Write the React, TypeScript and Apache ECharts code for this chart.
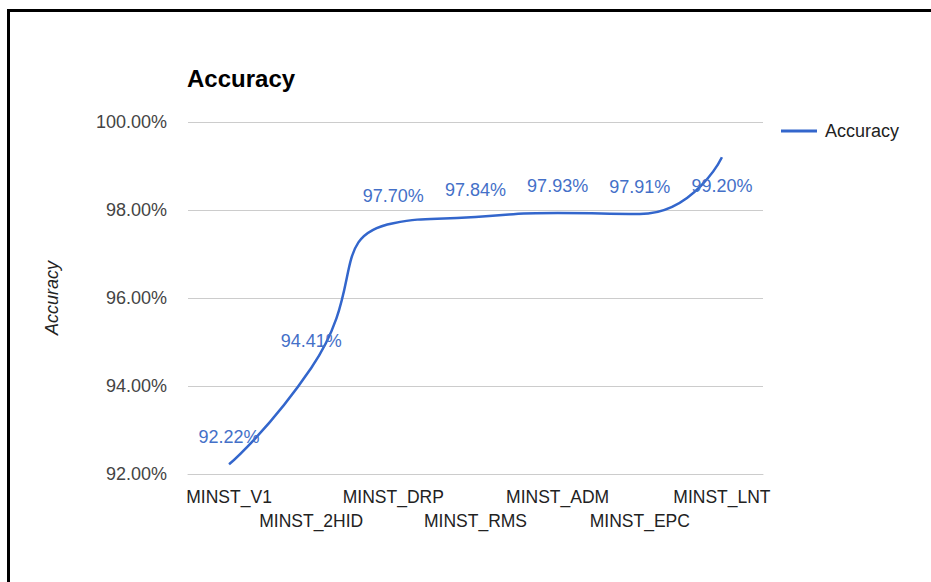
import React, { useEffect, useRef } from "react";
import * as echarts from "echarts";

const categories = ["MINST_V1", "MINST_2HID", "MINST_DRP", "MINST_RMS", "MINST_ADM", "MINST_EPC", "MINST_LNT"];
const accuracy = [92.22, 94.41, 97.7, 97.84, 97.93, 97.91, 99.2];
const yTicks = { min: 92, max: 100, interval: 2 };

export default function App() {
  const ref = useRef<HTMLDivElement>(null);
  useEffect(() => {
    document.body.style.margin = "0";
    const chart = echarts.init(ref.current!, null, { renderer: "svg" });
    const last = accuracy.length - 1;
    chart.setOption({
      animation: false,
      backgroundColor: "#fff",
      title: {
        text: "Accuracy",
        left: 182,
        top: 61,
        textStyle: { fontFamily: "Liberation Sans", fontSize: 24, fontWeight: "bold", color: "#000" },
      },
      legend: {
        left: 776,
        top: 117,
        icon: "rect",
        itemWidth: 36,
        itemHeight: 3,
        data: ["Accuracy"],
        itemStyle: { color: "#3366cc" },
        textStyle: { fontFamily: "Liberation Sans", fontSize: 18, color: "#222", padding: [0, 0, 0, 3] },
      },
      grid: { left: 188, right: 168, top: 122, bottom: 108 },
      graphic: [
        {
          type: "text",
          x: 52,
          y: 298,
          rotation: Math.PI / 2,
          style: {
            text: "Accuracy",
            fontFamily: "Liberation Sans",
            fontSize: 18,
            fontStyle: "italic",
            fill: "#222",
            align: "center",
            verticalAlign: "middle",
          },
        },
      ],
      xAxis: {
        type: "category",
        data: categories,
        boundaryGap: true,
        axisLine: { show: true, lineStyle: { color: "#ccc" } },
        axisTick: { show: false },
        axisLabel: {
          interval: 0,
          margin: 11,
          fontFamily: "Liberation Sans",
          fontSize: 17.5,
          color: "#222",
          lineHeight: 24,
          formatter: (v: string, i: number) => (i % 2 ? "\n" + v : v),
        },
      },
      yAxis: {
        type: "value",
        min: yTicks.min,
        max: yTicks.max,
        interval: yTicks.interval,
        axisLine: { show: false },
        axisTick: { show: false },
        splitLine: { lineStyle: { color: "#cccccc", width: 1 } },
        axisLabel: {
          margin: 21,
          fontFamily: "Liberation Sans",
          fontSize: 18,
          color: "#444",
          formatter: (v: number) => v.toFixed(2) + "%",
        },
      },
      series: [
        {
          name: "Accuracy",
          type: "line",
          smooth: 0.6,
          symbol: "circle",
          symbolSize: 0.5,
          showSymbol: true,
          lineStyle: { color: "#3366cc", width: 2.5 },
          itemStyle: { color: "#3366cc" },
          labelLayout: { hideOverlap: false },
          data: accuracy.map((v, i) =>
            i === last
              ? { value: v, label: { position: "bottom", distance: 20, offset: [-4, 0] } }
              : v
          ),
          label: {
            show: true,
            position: "top",
            distance: 18,
            fontFamily: "Liberation Sans",
            fontSize: 18,
            color: "#4470c8",
            formatter: (p: any) => Number(p.value).toFixed(2) + "%",
          },
        },
      ],
    });
    return () => chart.dispose();
  }, []);
  return (
    <div style={{ position: "relative", width: 931, height: 582, overflow: "hidden", background: "#fff" }}>
      <div ref={ref} style={{ position: "absolute", left: 0, top: 0, width: 931, height: 582 }} />
      <div
        style={{
          position: "absolute",
          left: 7,
          top: 9,
          width: 1000,
          height: 1000,
          borderLeft: "3px solid #000",
          borderTop: "3px solid #000",
          pointerEvents: "none",
        }}
      />
    </div>
  );
}
